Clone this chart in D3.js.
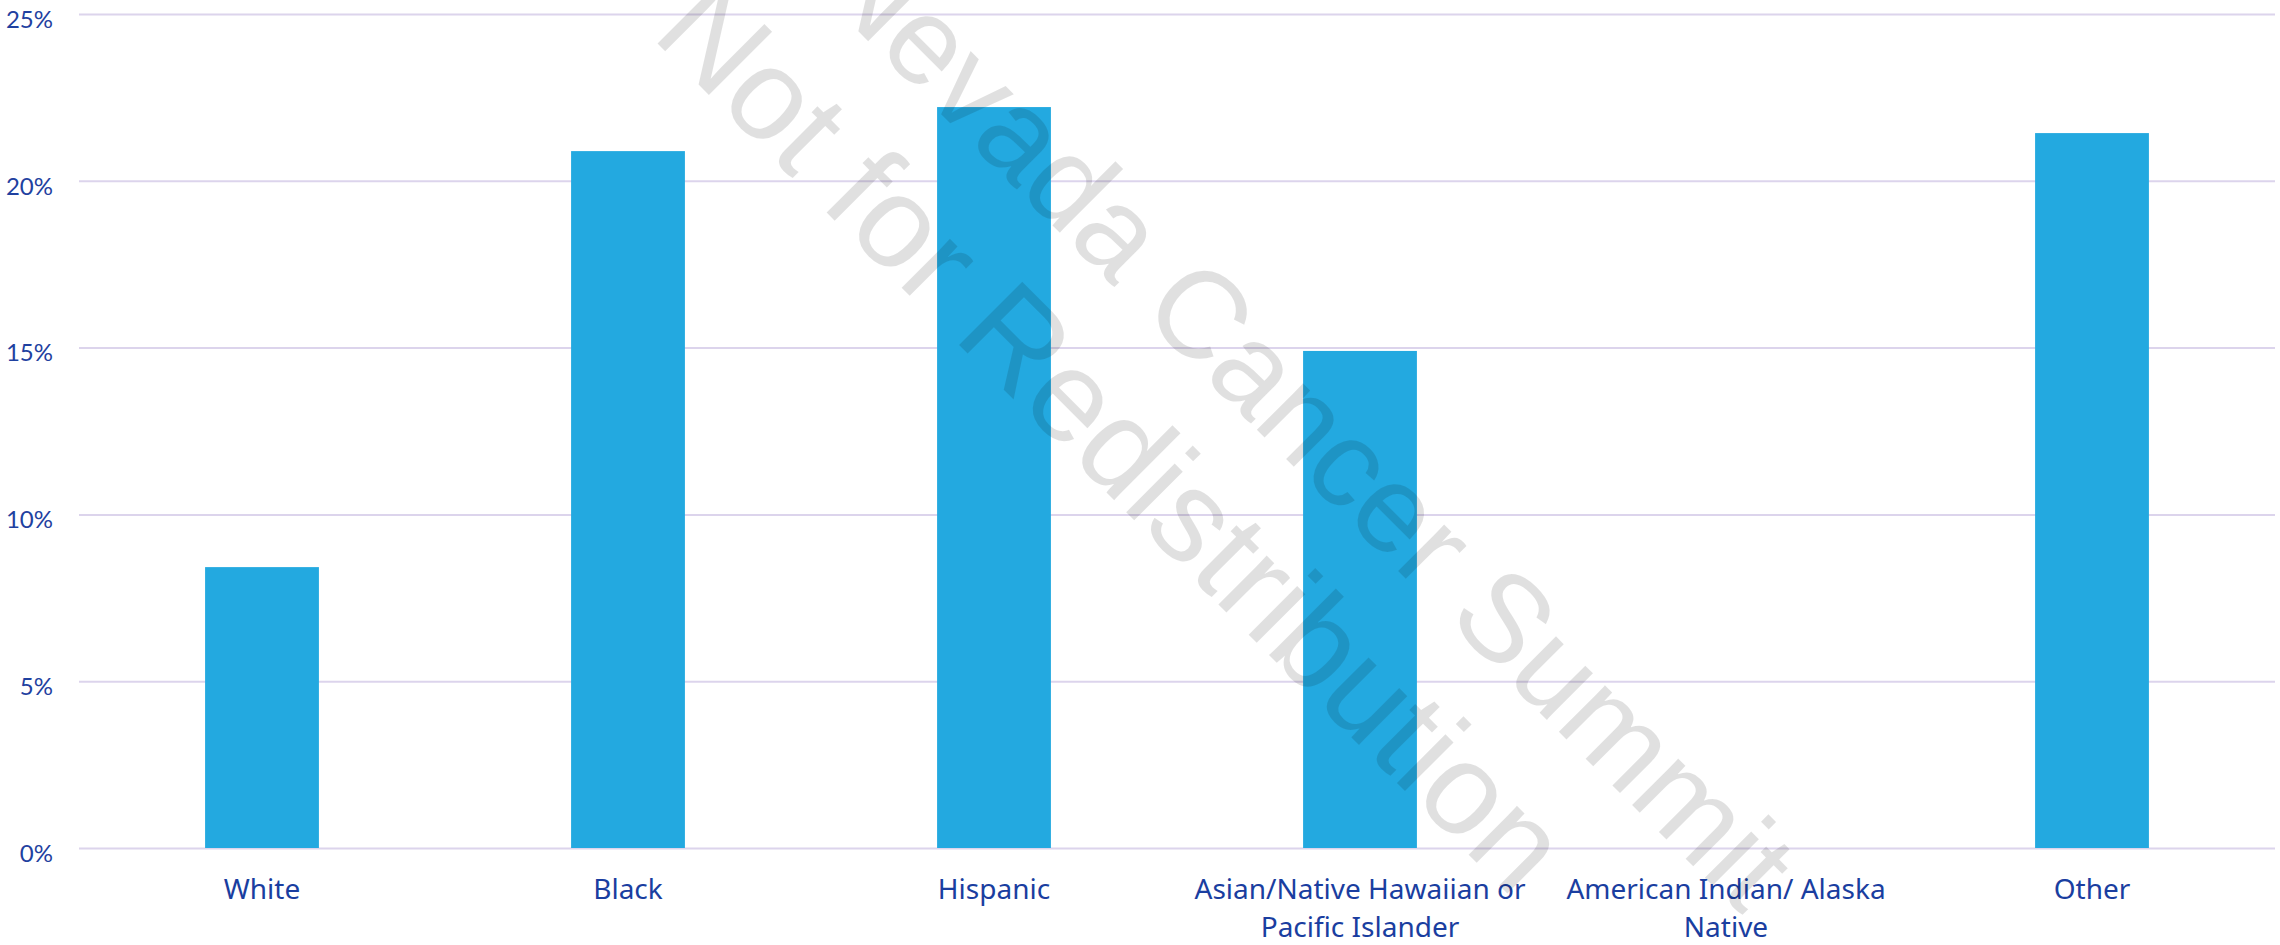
<!DOCTYPE html>
<html>
<head>
<meta charset="utf-8">
<script src="https://cdn.jsdelivr.net/npm/d3@7"></script>
<style>
  html, body { margin: 0; padding: 0; background: #ffffff; }
  svg { display: block; }
</style>
</head>
<body>
<svg id="chart" width="2280" height="945"></svg>
<script>
// ---- data ----
const categories = [
  ["White"],
  ["Black"],
  ["Hispanic"],
  ["Asian/Native Hawaiian or", "Pacific Islander"],
  ["American Indian/ Alaska", "Native"],
  ["Other"]
];
const categoryKeys = ["White", "Black", "Hispanic", "Asian/Native Hawaiian or Pacific Islander", "American Indian/ Alaska Native", "Other"];
const values = [8.42, 20.89, 22.21, 14.90, null, 21.43];
const yTicks = [0, 5, 10, 15, 20, 25];
const watermarkLines = ["Nevada Cancer Summit", "Not for Redistribution"];

// ---- layout ----
const W = 2280, H = 945;
const margin = { left: 79, right: 5, top: 14, bottom: 97 };
const svg = d3.select("#chart");

const x = d3.scaleBand()
  .domain(categoryKeys)
  .range([margin.left, W - margin.right])
  .paddingInner(0.689)
  .paddingOuter(0.3445);

const y = d3.scaleLinear()
  .domain([0, 25])
  .range([H - margin.bottom, margin.top]);

// gridlines
const grid = svg.append("g")
  .attr("transform", `translate(${margin.left},0)`)
  .call(d3.axisLeft(y).tickValues(yTicks).tickSize(-(W - margin.left - margin.right)).tickFormat(""));
grid.select(".domain").remove();
grid.selectAll(".tick line").attr("stroke", "#dcd4ec").attr("stroke-width", 2);

// y tick labels
const yAxis = svg.append("g")
  .attr("transform", `translate(${margin.left},0)`)
  .call(d3.axisLeft(y).tickValues(yTicks).tickSize(0).tickPadding(26).tickFormat(d => d + "%"));
yAxis.select(".domain").remove();
yAxis.selectAll(".tick text")
  .attr("fill", "#1f41a0")
  .attr("font-family", "Lato, 'Noto Sans', sans-serif")
  .attr("font-size", 24)
  .attr("dy", "0.55em");

// bars
svg.append("g").selectAll("rect")
  .data(values.map((v, i) => ({ v, k: categoryKeys[i] })).filter(d => d.v != null))
  .join("rect")
  .attr("x", d => x(d.k))
  .attr("width", x.bandwidth())
  .attr("y", d => y(d.v))
  .attr("height", d => y(0) - y(d.v))
  .attr("fill", "#23a9e0");

// category labels
const xl = svg.append("g");
categories.forEach((lines, i) => {
  const cx = x(categoryKeys[i]) + x.bandwidth() / 2;
  const t = xl.append("text")
    .attr("x", cx)
    .attr("y", 899)
    .attr("text-anchor", "middle")
    .attr("fill", "#1a3ea0")
    .attr("font-family", "'Noto Sans', 'Open Sans', sans-serif")
    .attr("font-size", 28);
  lines.forEach((ln, j) => {
    t.append("tspan").attr("x", cx).attr("dy", j === 0 ? 0 : 38).text(ln);
  });
});

// watermark
const wm = svg.append("g").attr("pointer-events", "none");
const wmPos = [[812, -15, 124], [650, 36, 130]];
watermarkLines.forEach((txt, i) => {
  wm.append("text")
    .attr("transform", `translate(${wmPos[i][0]},${wmPos[i][1]}) rotate(45)`)
    .attr("font-family", "'Liberation Sans', Arial, sans-serif")
    .attr("font-size", wmPos[i][2])
    .attr("fill", "#000")
    .attr("fill-opacity", 0.12)
    .text(txt);
});
</script>
</body>
</html>
